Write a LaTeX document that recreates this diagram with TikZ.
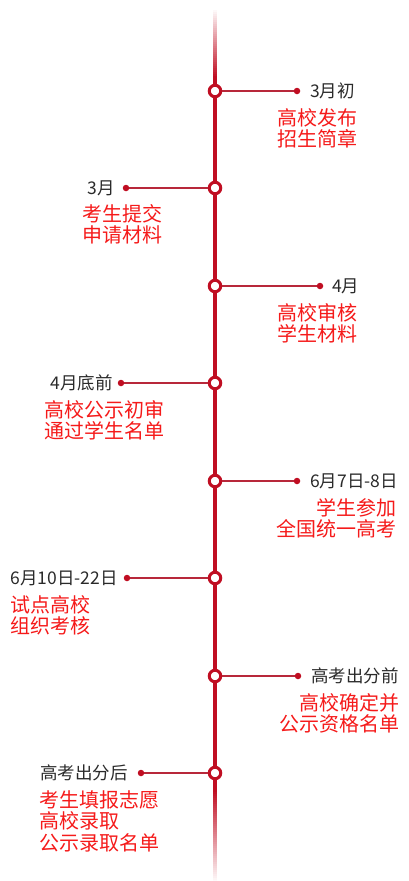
\documentclass[tikz,border=0pt]{standalone}
\usepackage{fontspec}
\setmainfont{Noto Sans CJK SC}
\definecolor{spine}{HTML}{C00E22}
\definecolor{linkc}{HTML}{B8283A}
\definecolor{descc}{HTML}{F51A1A}
\definecolor{datec}{HTML}{2A2A2A}
\tikzset{
  hub/.style={circle, draw=spine, fill=white, line width=3pt, minimum size=11.5pt, inner sep=0pt},
  dotn/.style={circle, fill=spine, minimum size=6.5pt, inner sep=0pt},
  link/.style={draw=linkc, line width=1.3pt},
  datel/.style={text=datec, font=\fontsize{17.5}{20}\selectfont, inner sep=0pt},
  descl/.style={text=descc, font=\fontsize{20}{21.5}\selectfont, inner sep=0pt},
}
\begin{document}
\begin{tikzpicture}[x=1pt,y=-1pt]
\useasboundingbox (0,0) rectangle (408,881);
% top fade
\foreach \i in {0,...,34} {
  \pgfmathsetmacro{\pc}{100*\i/34}
  \fill[spine!\pc!white] (213.2,8+2*\i) rectangle (216.8,10.2+2*\i);
}
\fill[spine] (213.2,77) rectangle (216.8,790);
% bottom fade
\foreach \i in {0,...,45} {
  \pgfmathsetmacro{\pc}{100-100*\i/46}
  \fill[spine!\pc!white] (213.2,789.8+2*\i) rectangle (216.8,792+2*\i);
}

% 1 right
\node[hub] (h1) at (215,91) {};
\node[dotn] (d1) at (297,91) {};
\draw[link] (h1) -- (d1);
\node[datel, anchor=west] (t1) at (310,91) {3月初};
\node[descl, anchor=base east, align=right] (x1) at (358,146.5) {高校发布\\招生简章};

% 2 left
\node[hub] (h2) at (215,188) {};
\node[dotn] (d2) at (126,188) {};
\draw[link] (h2) -- (d2);
\node[datel, anchor=east] (t2) at (115,188) {3月};
\node[descl, anchor=base west, align=left] (x2) at (82,242.5) {考生提交\\申请材料};

% 3 right
\node[hub] (h3) at (215,286) {};
\node[dotn] (d3) at (320,286) {};
\draw[link] (h3) -- (d3);
\node[datel, anchor=west] (t3) at (332,286) {4月};
\node[descl, anchor=base east, align=right] (x3) at (358,341.5) {高校审核\\学生材料};

% 4 left
\node[hub] (h4) at (215,383) {};
\node[dotn] (d4) at (121,383) {};
\draw[link] (h4) -- (d4);
\node[datel, anchor=east] (t4) at (113,383) {4月底前};
\node[descl, anchor=base west, align=left] (x4) at (44,438.5) {高校公示初审\\通过学生名单};

% 5 right
\node[hub] (h5) at (215,481) {};
\node[dotn] (d5) at (297,481) {};
\draw[link] (h5) -- (d5);
\node[datel, anchor=west] (t5) at (310,481) {6月7日-8日};
\node[descl, anchor=base east, align=right] (x5) at (397,536.5) {学生参加\\全国统一高考};

% 6 left
\node[hub] (h6) at (215,578) {};
\node[dotn] (d6) at (127,578) {};
\draw[link] (h6) -- (d6);
\node[datel, anchor=east] (t6) at (118,578) {6月10日-22日};
\node[descl, anchor=base west, align=left] (x6) at (10,633.5) {试点高校\\组织考核};

% 7 right
\node[hub] (h7) at (215,676) {};
\node[dotn] (d7) at (298,676) {};
\draw[link] (h7) -- (d7);
\node[datel, anchor=west] (t7) at (311,676) {高考出分前};
\node[descl, anchor=base east, align=right] (x7) at (400,731.5) {高校确定并\\公示资格名单};

% 8 left
\node[hub] (h8) at (215,773) {};
\node[dotn] (d8) at (141,773) {};
\draw[link] (h8) -- (d8);
\node[datel, anchor=east] (t8) at (128,773) {高考出分后};
\node[descl, anchor=base west, align=left] (x8) at (39,850) {考生填报志愿\\高校录取\\公示录取名单};
\end{tikzpicture}
\end{document}
